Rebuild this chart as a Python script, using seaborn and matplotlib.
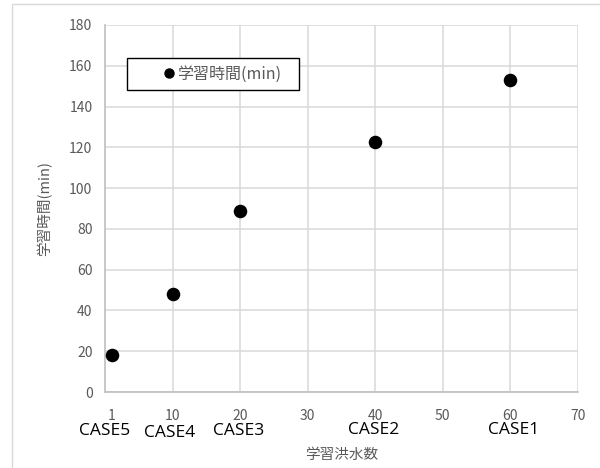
import matplotlib
matplotlib.use("Agg")
import matplotlib.pyplot as plt
from matplotlib.patches import Rectangle
import numpy as np
import pandas as pd
import seaborn as sns

# Training floods vs. training time
floods = [1, 10, 20, 40, 60]
train_minutes = [18, 48, 89, 122.5, 153]
case_names = ["CASE5", "CASE4", "CASE3", "CASE2", "CASE1"]
case_x = [0, 9.5, 19.8, 39.7, 60.5]
case_dy = [0, 1.5, 0, -1, -1]
xtick_values = [1, 10, 20, 30, 40, 50, 60, 70]
xtick_labels = ["1", "10", "20", "30", "40", "50", "60", "70"]
ytick_values = [0, 20, 40, 60, 80, 100, 120, 140, 160, 180]
series_label = "学習時間(min)"

df = pd.DataFrame({"floods": floods, "minutes": train_minutes})

sns.set_theme(style="white")
plt.rcParams["font.family"] = ["Noto Sans CJK JP", "DejaVu Sans"]

gray_text = "#595959"
grid_col = "#d9d9d9"

fig = plt.figure(figsize=(6.0, 4.68), dpi=100)
ax = fig.add_axes([105 / 600, 1 - 392 / 468, 473 / 600, 367 / 468])

sns.scatterplot(data=df, x="floods", y="minutes", ax=ax, color="black",
                s=95, edgecolor="black", linewidth=0, zorder=3, legend=False)

ax.set_xlim(0, 70)
ax.set_ylim(0, 180)
ax.set_xticks(xtick_values)
ax.set_xticklabels(xtick_labels)
ax.set_yticks(ytick_values)
ax.tick_params(axis="both", which="both", length=0, labelsize=10,
               labelcolor=gray_text)
ax.tick_params(axis="x", pad=12)
ax.tick_params(axis="y", pad=9)
ax.grid(False)
ax.yaxis.grid(True, color=grid_col, linewidth=1.1)
# vertical grid at every 10 floods (the "1" tick sits on the left edge)
for gx in xtick_values[1:]:
    ax.axvline(gx, color=grid_col, linewidth=1.1, zorder=0)
ax.set_axisbelow(True)
for side in ["top", "right"]:
    ax.spines[side].set_visible(False)
for side in ["left", "bottom"]:
    ax.spines[side].set_color("#bfbfbf")
    ax.spines[side].set_linewidth(1.2)

ax.set_xlabel("学習洪水数", fontsize=10.5, color=gray_text, labelpad=18)
ax.set_ylabel(series_label, fontsize=10.5, color=gray_text, labelpad=12)

# Case names under the tick labels
for name, cx, dy in zip(case_names, case_x, case_dy):
    ax.annotate(name, xy=(cx, 0), xycoords=("data", "axes fraction"),
                xytext=(0, -28 - dy), textcoords="offset points",
                ha="center", va="center", fontsize=12.5, color="black",
                family=["Open Sans", "DejaVu Sans"])

# Legend inside a plain black box
handle = plt.Line2D([], [], marker="o", linestyle="none", color="black",
                    markersize=6.5)
leg = ax.legend([handle], [series_label], loc="center",
                bbox_to_anchor=((222 - 105) / 473, (392 - 74) / 367),
                frameon=False, handletextpad=0.1, handlelength=0.8,
                fontsize=11.5, labelcolor=gray_text)
leg.set_zorder(4)
ax.add_patch(Rectangle(((127 - 105) / 473, (392 - 90) / 367),
                       (299 - 127) / 473, 32 / 367, transform=ax.transAxes,
                       fill=True, facecolor="white", edgecolor="black",
                       linewidth=1.0, zorder=2.5))

# Chart area border (left and top edges fall inside the canvas)
fig.add_artist(Rectangle((12 / 600, -0.05), 1.1, 1 - 4 / 468 + 0.05,
                         transform=fig.transFigure, fill=False,
                         edgecolor="#d9d9d9", linewidth=1.0))

fig.savefig("out.png", dpi=100)
